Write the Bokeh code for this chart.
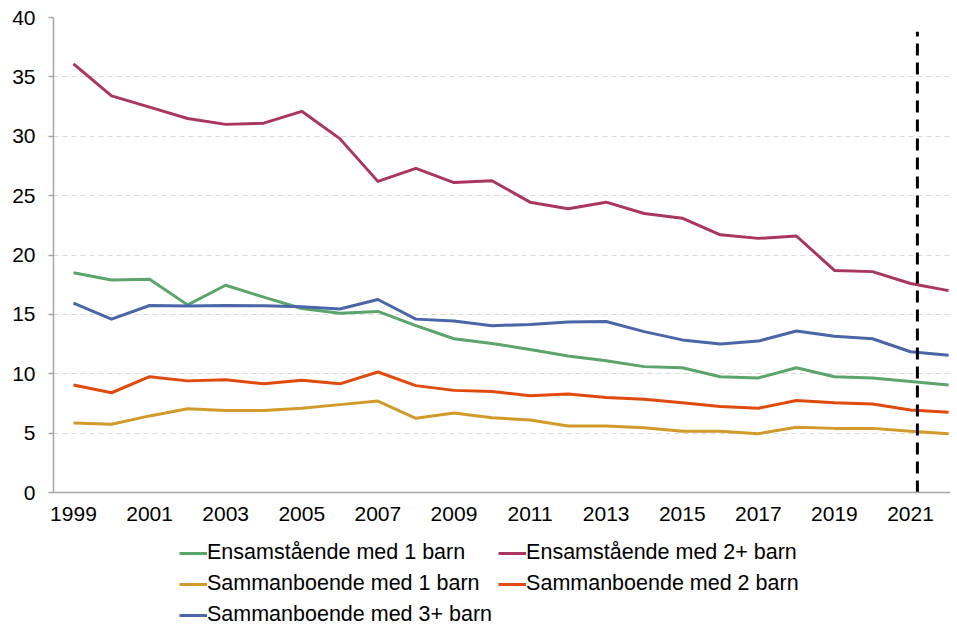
from bokeh.plotting import figure
from bokeh.layouts import column
from bokeh.models import Legend, LegendItem, FixedTicker, ColumnDataSource, Range1d
from bokeh.embed import file_html
from bokeh.resources import INLINE

years = list(range(1999, 2023))

ensam_1 = [18.5, 17.9, 17.95, 15.8, 17.45, 16.45, 15.5, 15.1, 15.25, 14.05, 12.95, 12.55,
           12.05, 11.5, 11.1, 10.6, 10.5, 9.75, 9.65, 10.5, 9.75, 9.65, 9.35, 9.05]
ensam_2plus = [36.1, 33.4, 32.45, 31.5, 31.0, 31.1, 32.1, 29.8, 26.2, 27.3, 26.1, 26.25,
               24.45, 23.9, 24.45, 23.5, 23.1, 21.7, 21.4, 21.6, 18.7, 18.6, 17.6, 17.0]
samman_1 = [5.85, 5.75, 6.45, 7.05, 6.9, 6.9, 7.1, 7.4, 7.7, 6.25, 6.7, 6.3,
            6.1, 5.6, 5.6, 5.45, 5.15, 5.15, 4.95, 5.5, 5.4, 5.4, 5.15, 4.95]
samman_2 = [9.05, 8.4, 9.75, 9.4, 9.5, 9.15, 9.45, 9.15, 10.15, 9.0, 8.6, 8.5,
            8.15, 8.3, 8.0, 7.85, 7.55, 7.25, 7.1, 7.75, 7.55, 7.45, 6.95, 6.75]
samman_3plus = [15.95, 14.6, 15.75, 15.7, 15.75, 15.72, 15.65, 15.45, 16.25, 14.6, 14.45, 14.05,
                14.15, 14.35, 14.4, 13.55, 12.85, 12.5, 12.75, 13.6, 13.15, 12.95, 11.85, 11.55]

labels = ["Ensamstående med 1 barn", "Ensamstående med 2+ barn",
          "Sammanboende med 1 barn", "Sammanboende med 2 barn",
          "Sammanboende med 3+ barn"]
series = [ensam_1, ensam_2plus, samman_1, samman_2, samman_3plus]
colors = ["#5ba46b", "#a9365f", "#d19a2a", "#e04a0c", "#4a66a8"]

x_tick_years = list(range(1999, 2022, 2))
y_ticks = [0, 5, 10, 15, 20, 25, 30, 35, 40]

marker_year = [2021.18]
marker_bottom = [0]
marker_top = [38.8]

FONT = "Liberation Sans"

p = figure(width=950, height=535, x_range=(1998.475, 2022.05), y_range=(0, 40),
           output_backend="svg", toolbar_location=None,
           min_border_left=53, min_border_top=17, min_border_right=0, min_border_bottom=43)
p.outline_line_color = None
p.background_fill_color = "white"

p.xgrid.visible = False
p.ygrid.grid_line_color = "#d9d9d9"
p.ygrid.grid_line_dash = "5 4"
p.ygrid.grid_line_width = 1

p.xaxis.ticker = FixedTicker(ticks=x_tick_years)
p.yaxis.ticker = FixedTicker(ticks=y_ticks)
for ax in (p.xaxis, p.yaxis):
    ax.axis_line_color = "#a6a6a6"
    ax.axis_line_width = 1.5
    ax.major_tick_line_color = "#a6a6a6"
    ax.major_tick_line_width = 1.5
    ax.minor_tick_line_color = None
    ax.major_label_text_font = FONT
    ax.major_label_text_font_size = "21px"
    ax.major_label_text_color = "#000000"
p.xaxis.major_tick_out = 0
p.xaxis.major_tick_in = 0
p.xaxis.major_label_standoff = 14
p.yaxis.major_tick_out = 5
p.yaxis.major_tick_in = 0
p.yaxis.major_label_standoff = 13

for ys, col in zip(series, colors):
    p.line(years, ys, line_color=col, line_width=3, line_join="round")

src = ColumnDataSource(dict(x=marker_year, y0=marker_bottom, y1=marker_top))
p.segment(x0="x", y0="y0", x1="x", y1="y1", source=src, line_color="black",
          line_width=3, line_dash="12 7")

# legend panel (its own small figure under the chart; the proxy lines lie outside its ranges)
q = figure(width=950, height=92, x_range=Range1d(0, 1), y_range=Range1d(0, 1),
           x_axis_type=None, y_axis_type=None, output_backend="svg", toolbar_location=None,
           min_border=0, min_border_left=0, min_border_right=0, min_border_top=0,
           min_border_bottom=0)
q.outline_line_color = None
items = []
for lab, col in zip(labels, colors):
    r = q.line([-5, -4], [-5, -5], line_color=col, line_width=3)
    items.append(LegendItem(label=lab, renderers=[r]))

legend = Legend(items=items, location=(126, 0), orientation="horizontal", ncols=2,
                label_text_font=FONT, label_text_font_size="21.5px", label_text_color="#000000",
                glyph_width=28, glyph_height=20, label_standoff=0, label_height=20,
                spacing=6, padding=0, margin=0,
                border_line_color=None, background_fill_alpha=0)
q.add_layout(legend, "center")

layout = column(p, q, spacing=0)
open("out.html", "w").write(file_html(layout, INLINE))
